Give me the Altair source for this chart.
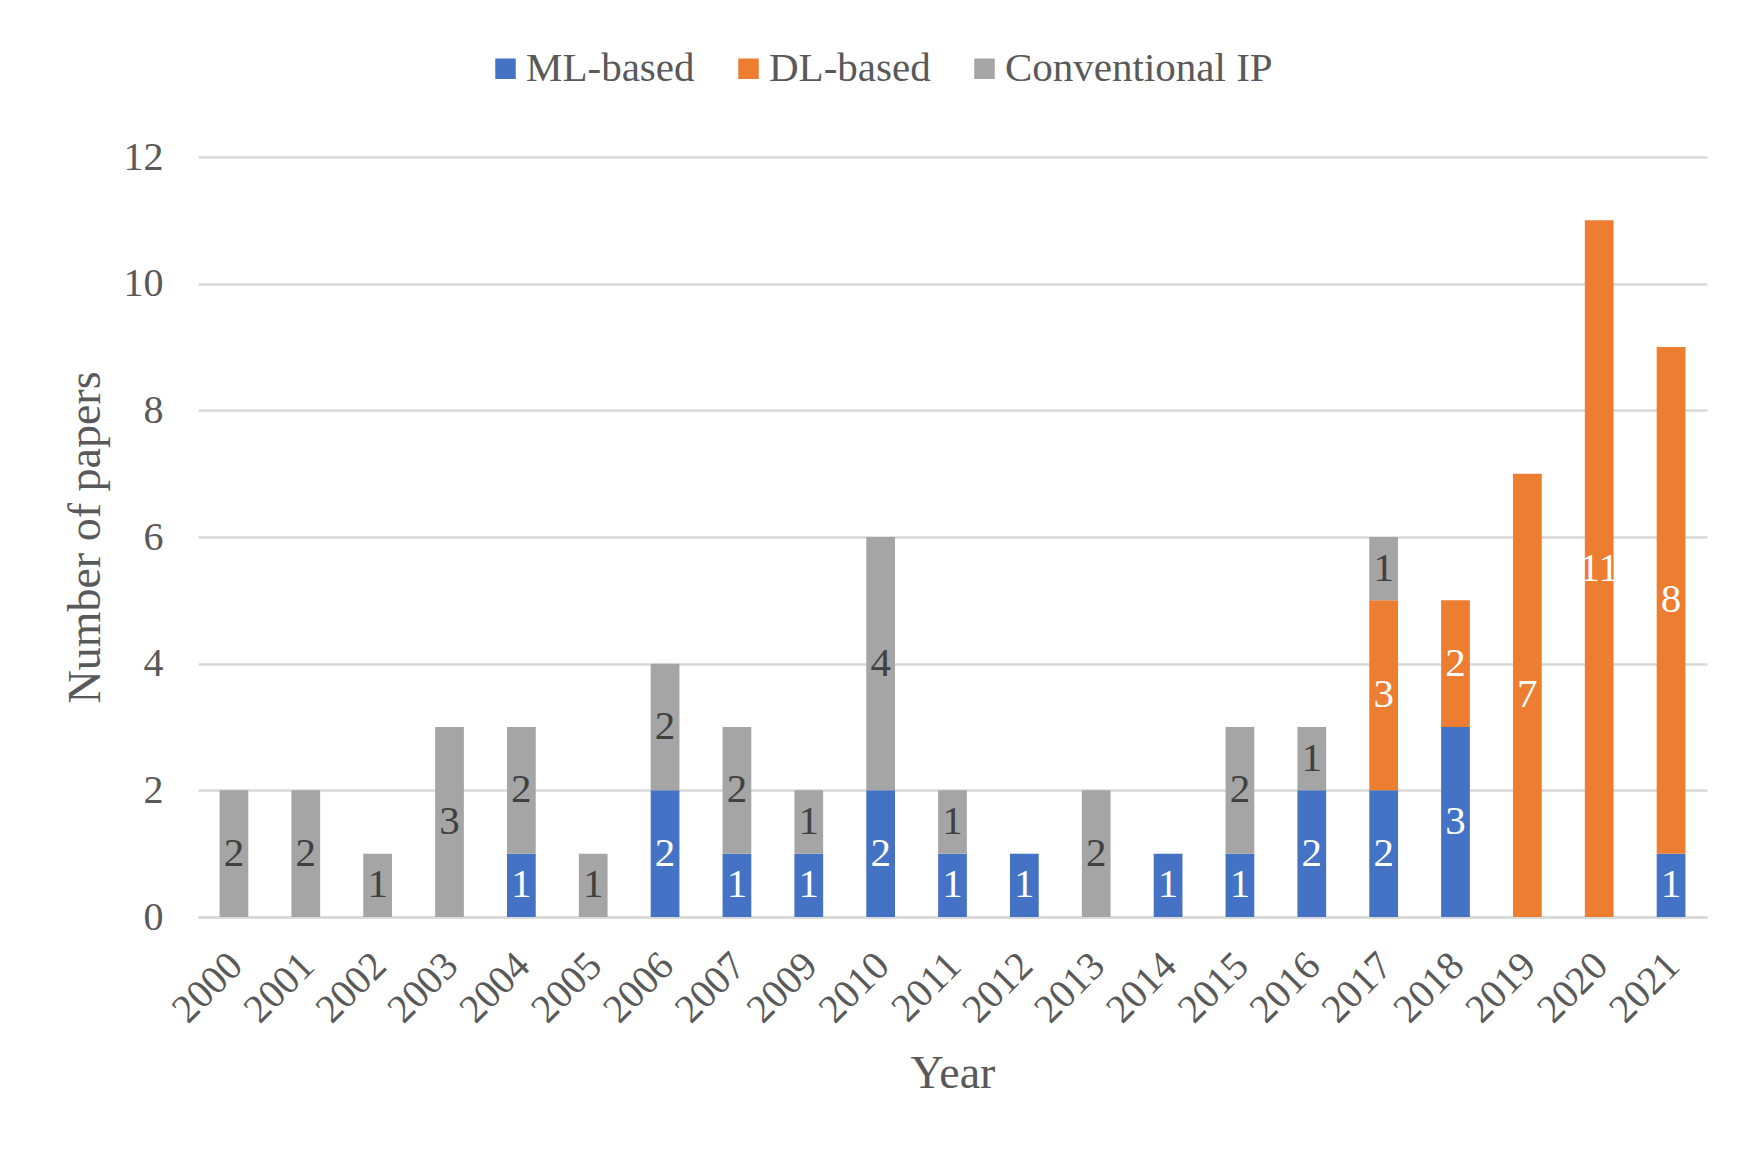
import altair as alt
import pandas as pd

years = ["2000", "2001", "2002", "2003", "2004", "2005", "2006", "2007", "2009", "2010",
         "2011", "2012", "2013", "2014", "2015", "2016", "2017", "2018", "2019", "2020", "2021"]
ml_based = [0, 0, 0, 0, 1, 0, 2, 1, 1, 2, 1, 1, 0, 1, 1, 2, 2, 3, 0, 0, 1]
dl_based = [0, 0, 0, 0, 0, 0, 0, 0, 0, 0, 0, 0, 0, 0, 0, 0, 3, 2, 7, 11, 8]
conventional = [2, 2, 1, 3, 2, 1, 2, 2, 1, 4, 1, 0, 2, 0, 2, 1, 1, 0, 0, 0, 0]
y_ticks = [0, 2, 4, 6, 8, 10, 12]

series_names = ["ML-based", "DL-based", "Conventional IP"]
series_colors = ["#4472C4", "#ED7D31", "#A5A5A5"]
label_colors = ["#FFFFFF", "#FFFFFF", "#404040"]

FONT = "Liberation Serif"
TEXT = "#595959"

rows = []
for i, yr in enumerate(years):
    base = 0
    for s, vals in enumerate([ml_based, dl_based, conventional]):
        v = vals[i]
        if v > 0:
            rows.append({
                "year": yr, "series": series_names[s], "order": s, "value": v,
                "y0": base, "y1": base + v, "mid": base + v / 2,
                "tcolor": label_colors[s],
            })
        base += v
df = pd.DataFrame(rows)

x_enc = alt.X(
    "year:N", sort=years, title="Year",
    scale=alt.Scale(paddingInner=0.6, paddingOuter=0.3),
    axis=alt.Axis(labelAngle=-45, labelFontSize=40, labelFont=FONT, labelColor=TEXT,
                  labelPadding=28, labelOffset=-12, ticks=False, tickSize=0, domain=True,
                  domainColor="#D9D9D9", domainWidth=2.5,
                  titleFontSize=46, titleFont=FONT, titleColor=TEXT,
                  titleFontWeight="normal", titlePadding=22, grid=False),
)

bars = alt.Chart(df).mark_bar().encode(
    x=x_enc,
    y=alt.Y("y0:Q", title="Number of papers",
            scale=alt.Scale(domain=[0, 12], nice=False),
            axis=alt.Axis(values=y_ticks, format="d", labelFontSize=40, labelFont=FONT,
                          labelColor=TEXT, labelPadding=35, ticks=False, tickSize=0,
                          domain=False, grid=True, gridColor="#D9D9D9", gridWidth=2.5,
                          titleFontSize=46, titleFont=FONT, titleColor=TEXT,
                          titleFontWeight="normal", titlePadding=14)),
    y2="y1:Q",
    color=alt.Color("series:N",
                    scale=alt.Scale(domain=series_names, range=series_colors),
                    legend=alt.Legend(title=None, orient="none", direction="horizontal",
                                      legendX=287, legendY=-109,
                                      symbolType="square", symbolSize=420,
                                      symbolStrokeWidth=0, labelFontSize=41,
                                      labelFont=FONT, labelColor=TEXT, labelOffset=0,
                                      columnPadding=33, labelLimit=1000, padding=0)),
)

labels = alt.Chart(df).mark_text(font=FONT, fontSize=41, baseline="middle").encode(
    x=alt.X("year:N", sort=years),
    y=alt.Y("mid:Q"),
    text=alt.Text("value:Q"),
    color=alt.Color("tcolor:N", scale=None),
)

chart = alt.layer(bars, labels).properties(
    width=1509, height=760, background="#FFFFFF",
    padding={"left": 190, "top": 149, "right": 45, "bottom": 230},
    autosize=alt.AutoSizeParams(type="none"),
).configure_view(strokeWidth=0)

chart.save("out.html", embed_options={"renderer": "svg", "actions": False})
